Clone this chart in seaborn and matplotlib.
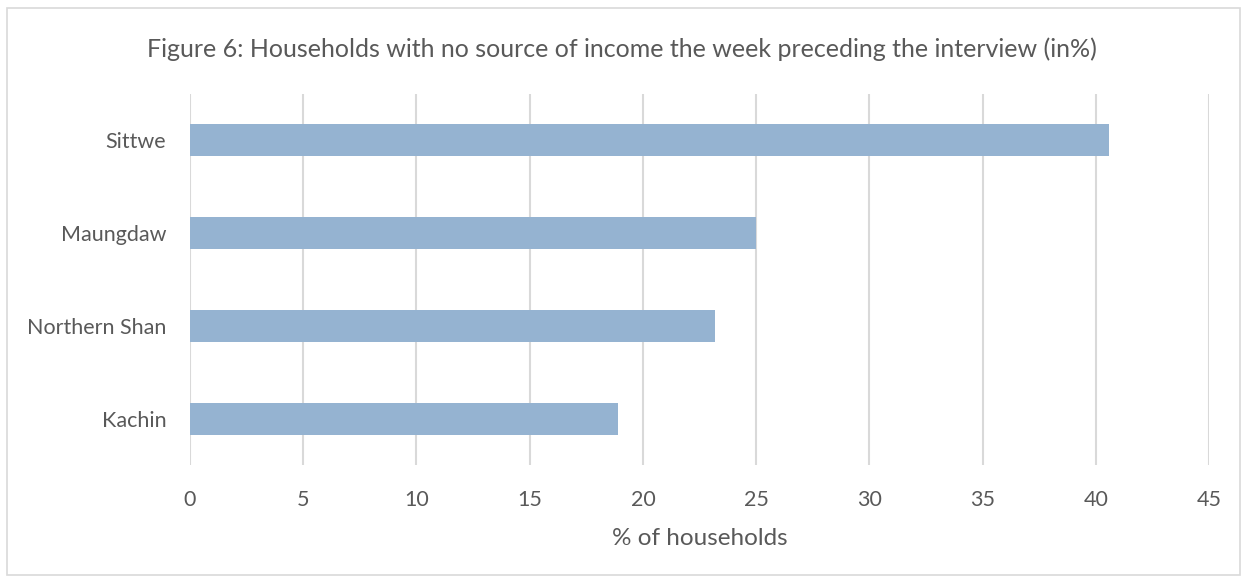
import matplotlib
matplotlib.use("Agg")
import matplotlib.pyplot as plt
import seaborn as sns
import pandas as pd
from matplotlib.patches import Rectangle

regions = ["Sittwe", "Maungdaw", "Northern Shan", "Kachin"]
values = [40.6, 25.0, 23.2, 18.9]
xticks = [0, 5, 10, 15, 20, 25, 30, 35, 40, 45]

sns.set_style("white")
plt.rcParams['font.family'] = ['Lato', 'DejaVu Sans']

df = pd.DataFrame({"region": regions, "value": values})

fig = plt.figure(figsize=(12.44, 5.77), dpi=100)
ax = fig.add_axes([190/1244, 1-465/577, 1019/1244, 371/577])

sns.barplot(data=df, x="value", y="region", orient="h", color="#95B3D1",
            width=0.345, ax=ax, saturation=1, zorder=3, linewidth=0)

ax.set_xlim(0, 45)
ax.set_ylim(3.5, -0.5)
ax.set_xticks(xticks)
ax.set_xticklabels([str(t) for t in xticks], fontsize=15.5, color="#595959")
ax.tick_params(axis='x', length=0, pad=18)
ax.tick_params(axis='y', length=0, pad=17, labelsize=15.5, labelcolor="#595959")
ax.xaxis.grid(True, color="#D9D9D9", linewidth=1.5, zorder=0)
ax.yaxis.grid(False)
for s in ax.spines.values():
    s.set_visible(False)
ax.set_ylabel("")
ax.set_xlabel("% of households", fontsize=17.5, color="#595959", labelpad=13)

fig.text(0.5, 1-49/577, "Figure 6: Households with no source of income the week preceding the interview (in%)",
         ha="center", va="center", fontsize=18, color="#595959")

fig.patches.append(Rectangle((7/1244, 2/577), 1233/1244, 567/577, transform=fig.transFigure,
                             fill=False, edgecolor="#D9D9D9", linewidth=1.2))

fig.savefig("out.png", dpi=100)
